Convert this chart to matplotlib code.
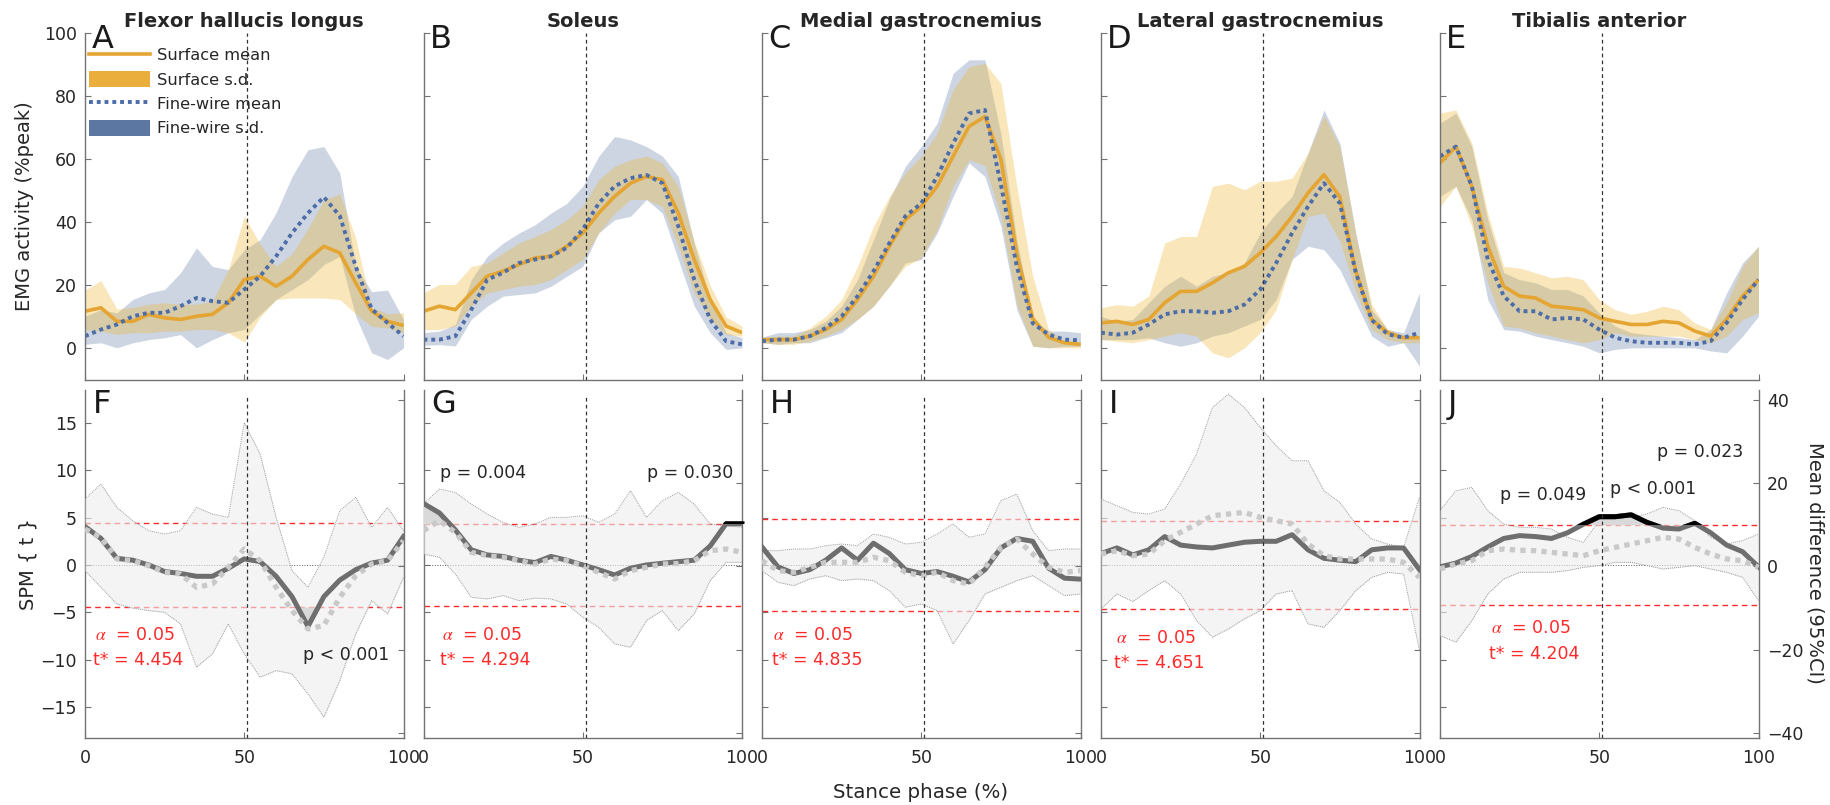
import numpy as np
import matplotlib
matplotlib.use('Agg')
from matplotlib import pyplot as plt
from matplotlib.lines import Line2D
from matplotlib.patches import Patch, Rectangle

plt.rcParams['font.family'] = ['DejaVu Sans']
plt.rcParams['mathtext.fontset'] = 'stix'

stance = [0, 5, 10, 15, 20, 25, 30, 35, 40, 45, 50, 55, 60, 65, 70, 75, 80, 85, 90, 95, 100]

muscles = ['Flexor hallucis longus', 'Soleus', 'Medial gastrocnemius',
           'Lateral gastrocnemius', 'Tibialis anterior']
top_letters = ['A', 'B', 'C', 'D', 'E']
bottom_letters = ['F', 'G', 'H', 'I', 'J']
t_crit = [4.454, 4.294, 4.835, 4.651, 4.204]
alpha_level = 0.05

# --- EMG envelopes (%peak) ---
fhl_surf_mean = [11.8, 12.9, 8.6, 8.6, 10.8, 9.7, 9.2, 10.2, 10.8, 14.5, 21.8, 22.9, 19.7, 22.9, 28.2, 32.4, 30.3, 20.8, 11.8, 8.6, 7.3]
fhl_surf_hi = [18.5, 21.5, 12.5, 13, 14, 14.5, 14, 14, 15, 25, 42, 33, 26, 30, 38, 47, 49, 35, 13, 11, 11.3]
fhl_surf_lo = [6, 5.5, 4.5, 5, 5, 5.5, 5.5, 6, 6, 5, 2, 10, 15.5, 16, 16, 16, 15.5, 11, 7, 6.5, 5]
fhl_fw_mean = [3.9, 6, 7.6, 10.2, 11.3, 11.3, 13.4, 16, 15, 14.5, 18.7, 22.9, 29.2, 36.6, 42.9, 48, 42, 26, 12.5, 8.1, 3.9]
fhl_fw_hi = [10.2, 12.3, 11.3, 15.5, 17.6, 18.7, 24, 31.9, 26, 25, 31.3, 34.5, 43, 54.5, 63, 64, 55.6, 26, 18, 18.5, 9.2]
fhl_fw_lo = [1.3, 1.8, 0.2, 1.8, 2.8, 3.4, 4.4, 0.2, 2.8, 5, 6, 10.8, 15.5, 18.7, 21.8, 26.6, 29.2, 10.2, -1.4, -3.5, 0.2]

sol_surf_mean = [11.8, 13.4, 12.3, 17.6, 22.9, 24.5, 26.6, 28.7, 29.2, 32.4, 36.6, 42.9, 48.2, 52.4, 54.5, 53.5, 42.9, 28.2, 15.5, 7.1, 5]
sol_surf_hi = [17.6, 20.3, 20.3, 26, 27.1, 30.3, 33.4, 35.5, 37.7, 40.8, 45, 53.5, 57.7, 59.8, 61, 58.8, 51.4, 34, 20, 10, 7.1]
sol_surf_lo = [6, 6, 7.1, 13.4, 17.6, 18.7, 19.7, 20.3, 21.8, 25, 28.2, 36.6, 42.9, 47.2, 47.2, 45, 32.4, 17.6, 9.2, 4.4, 3.9]
sol_fw_mean = [2.8, 2.8, 3.9, 12.3, 21.8, 24, 27.1, 28.2, 29.2, 31.9, 37.7, 46, 51.4, 54, 55, 52.4, 38.7, 21.8, 9.2, 2.3, 1.3]
sol_fw_hi = [5, 5.5, 7.6, 21.8, 29.2, 33.4, 36.6, 39.2, 42.9, 46, 51.4, 60.9, 67.2, 66.1, 64, 61, 54.5, 33.4, 15.5, 5, 3.4]
sol_fw_lo = [1.0, 1.2, 0.8, 9.2, 13.4, 16.6, 17.1, 17.6, 19.7, 22.9, 26, 36.6, 40.8, 41.9, 47.2, 42.9, 28.2, 13.4, 5, -0.3, 0.2]

mg_surf_mean = [2.8, 2.8, 2.8, 3.9, 6, 9.2, 15.5, 22.9, 32.4, 40.8, 45, 51.4, 60.9, 70.4, 73.5, 60, 30, 9.5, 3.5, 1.8, 1.3]
mg_surf_hi = [3.4, 3.9, 3.9, 6.5, 10.2, 15.5, 26, 38.7, 48.2, 55.6, 60.9, 68.2, 82, 89.3, 90.4, 84, 51.4, 22.9, 6, 2.3, 1.8]
mg_surf_lo = [1.8, 1.3, 1.3, 2.3, 3.9, 6, 9.2, 13.4, 19.7, 26, 28.7, 37.7, 51.4, 59.8, 58, 42, 14, 0.7, 0.2, 0.2, 0.2]
mg_fw_mean = [2.3, 2.8, 2.8, 3.9, 6.5, 10.2, 16.6, 24.5, 33.4, 41.9, 46, 54.5, 65, 74.5, 75.6, 52, 26, 8, 4.4, 2.8, 2.6]
mg_fw_hi = [3.6, 5, 5, 6, 8.6, 13.4, 21.8, 34.5, 47.2, 57.7, 64, 71.4, 87.2, 91.5, 91.5, 68, 34.5, 9.2, 5.5, 5.5, 5]
mg_fw_lo = [1.8, 1.3, 1.8, 1.8, 3.4, 5, 9.2, 13.4, 19.7, 27.1, 28.2, 36.6, 48.2, 58.8, 54.5, 38.7, 12.3, 0.7, 0.2, 0.7, 0.7]

lg_surf_mean = [8.1, 8.6, 7.6, 9.2, 14.5, 18.1, 18.1, 20.8, 24, 26, 30.3, 35.5, 41.9, 49.3, 55.1, 48, 24.5, 9.2, 5, 3.4, 3.4]
lg_surf_hi = [12.9, 13.9, 13.4, 16.6, 33.4, 35.5, 35.5, 51.4, 52.4, 50.3, 53, 53, 54, 61.9, 73.8, 64, 36, 14, 6, 4, 3.9]
lg_surf_lo = [2.8, 2.3, 1.8, 2.8, 3.9, 5, 3.9, -1.4, -3, 0.2, 5, 12.3, 28.2, 41.9, 42.9, 34, 18, 6, 2.8, 1.8, 1.8]
lg_fw_mean = [5, 4.4, 5, 7.6, 10.8, 11.8, 11.8, 11.3, 11.8, 13.9, 18.7, 27.1, 36.6, 45, 52.4, 46, 24, 9, 4.5, 3.4, 5]
lg_fw_hi = [10.2, 8.6, 9.2, 14.5, 19.7, 22.9, 19.7, 22.9, 24, 27.1, 36.6, 42.9, 48.2, 61.9, 75.6, 65, 36.6, 12.3, 6, 5, 17.6]
lg_fw_lo = [2.8, 2.8, 2.8, 3.4, 1.8, 0.7, 1.8, 3.9, 5, 7.1, 9.2, 15.5, 28.2, 32.4, 31.3, 25, 14.5, 3.9, 0.7, 1.8, -5.6]

ta_surf_mean = [58.8, 64, 51.4, 32.4, 19.7, 16.6, 16, 13.4, 12.9, 12.3, 9.7, 8.6, 7.6, 7.6, 8.6, 8.1, 5.5, 3.9, 9.2, 16.6, 21.8]
ta_surf_hi = [74.6, 75.6, 65.1, 42.9, 26, 25.5, 24, 22.4, 22.9, 21.8, 15.5, 12.3, 10.8, 11.8, 13.4, 12.3, 8.1, 6, 14.5, 26, 32.4]
ta_surf_lo = [45, 51.4, 38.7, 20.8, 7.1, 6.5, 5, 3.9, 2.8, 1.8, 2.8, 5, 3.9, 3.9, 3.9, 3.9, 2.8, 1.8, 3.9, 9.2, 11.3]
ta_fw_mean = [60.9, 64, 51.4, 28.2, 16.6, 11.8, 11.8, 9.2, 9.7, 9.2, 6, 3.4, 2.3, 1.8, 1.8, 1.8, 1.3, 2.3, 8.1, 15.5, 21.8]
ta_fw_hi = [71.4, 74.6, 64, 40.8, 24, 21.8, 20.8, 18.7, 18.7, 16.6, 11.3, 7.1, 5, 4.4, 3.9, 3.4, 2.8, 6, 17.6, 27.1, 32.4]
ta_fw_lo = [48.2, 51.4, 40.8, 15.5, 6, 5.5, 3.9, 2.8, 1.8, 0.7, -1.4, -0.3, 0.2, 0.2, 0.2, 0.2, 0.2, -0.8, -1.4, 3.9, 10.2]

# --- SPM{t} and mean difference (95% CI) ---
fhl_spm_t = [4.06, 2.8, 0.7, 0.5, 0, -0.7, -0.9, -1.2, -1.2, -0.35, 0.64, 0.35, -1.2, -3.35, -6.5, -3.35, -1.6, -0.5, 0.2, 0.5, 3.0]
fhl_mdiff = [9, 7, 1.8, 1.4, 0.2, -1.4, -1.8, -5, -4.2, -0.2, 4.2, 1.4, -5, -10.6, -15, -14.2, -7.4, -2.2, 0.6, 1.4, 6.2]
fhl_ci_hi = [16.2, 19.8, 14.2, 11, 8.6, 7.8, 8.6, 14.2, 12.6, 11.8, 34.5, 27, 11.8, -1, -5, 2.2, 13.4, 16.6, 9.4, 14.2, 8.6]
fhl_ci_lo = [-1, -5, -9, -10, -10.6, -11, -13.8, -24.2, -21, -13.8, -21, -26.6, -25, -25.8, -30.6, -36.2, -27.4, -16.2, -8.2, -11.4, -2.6]

sol_spm_t = [6.5, 5.5, 3.7, 1.6, 1.06, 0.9, 0.5, 0.25, 0.9, 0.5, 0, -0.5, -1.06, -0.35, 0, 0.18, 0.35, 0.5, 2.0, 4.35, 4.35]
sol_mdiff = [8.6, 11, 8.2, 3.4, 2.6, 2.2, 1.4, 0.6, 1.8, 1.4, 0.2, -1.4, -3, -1, -0.2, 0.6, 0.7, 1.4, 3.8, 4.2, 3.4]
sol_ci_hi = [15, 18.6, 17.8, 15, 12.6, 10.6, 9.4, 10.2, 11.8, 11.8, 12.2, 10.6, 12.6, 18.2, 11.8, 15.8, 17.8, 15, 10.2, 9.8, 9.4]
sol_ci_lo = [3, 2.2, -1.8, -7.4, -7.8, -7, -8.2, -7.6, -7.8, -9, -12.2, -14.6, -18.6, -19.4, -13, -10.6, -15.4, -11.4, -3.4, 1, 1]

mg_spm_t = [1.9, -0.2, -0.9, -0.5, 0.5, 1.8, 0.5, 2.3, 1.2, -0.5, -0.9, -0.7, -1.2, -1.8, -0.5, 1.8, 2.8, 2.5, -0.35, -1.4, -1.5]
mg_mdiff = [1.4, -1, -1.4, -0.2, 1, 1, 1, 2.2, 1.4, -1.4, -2.2, -1.4, -3.4, -4.2, -0.2, 4.6, 6.6, 3, -0.2, -1.4, -1]
mg_ci_hi = [3.8, 3.8, 4.2, 4.2, 5, 5.4, 5, 7.8, 7, 5.4, 5.8, 7.8, 10.2, 7, 7.8, 15.8, 17.4, 8.6, 3.8, 4.2, 4.2]
mg_ci_lo = [-1, -3.8, -4.6, -3, -2.2, -3.4, -3, -3.4, -5.8, -9.8, -9, -10.6, -18.6, -13, -6.6, -5, -3.4, -2.2, -4.6, -7, -6.6]

lg_spm_t = [1.2, 1.8, 1.06, 1.6, 3.0, 2.1, 1.9, 1.8, 2.1, 2.4, 2.5, 2.5, 3.2, 1.6, 0.7, 0.5, 0.35, 1.6, 1.8, 1.8, -0.5]
lg_mdiff = [3, 3.8, 2.6, 3, 6.2, 8.2, 10.2, 12.2, 12.6, 13, 11.8, 11, 10.2, 5.4, 2.6, 1.8, 1.8, 1.8, 1.8, 1, -2.6]
lg_ci_hi = [16.2, 14.6, 13, 12.6, 13.8, 19.8, 27, 38.2, 41.4, 38.2, 33.4, 29, 25.4, 25.4, 18.2, 15.4, 10.2, 6.6, 5.4, 4.6, 16.6]
lg_ci_lo = [-10.2, -6.6, -8.4, -5.8, -3.4, -6.6, -13, -17, -15, -12.6, -10.6, -6.6, -5.8, -13.8, -14.6, -10.6, -5.8, -2.6, -1.4, -1.8, -20.2]

ta_spm_t = [-0.2, 0.2, 0.9, 1.9, 2.8, 3.1, 3.0, 2.8, 3.4, 4.3, 5.1, 5.1, 5.3, 4.5, 3.9, 3.8, 4.4, 3.4, 2.1, 1.4, -0.2]
ta_mdiff = [-0.6, 0.6, 1.4, 3.8, 4.2, 3.9, 3.8, 3.4, 3, 2.6, 3.8, 4.6, 5.4, 6.2, 7, 6.6, 4.6, 3, 1.8, 1.4, -0.2]
ta_ci_hi = [13.4, 18.2, 19, 13.4, 10.2, 9.4, 9.4, 9, 7, 5.8, 11, 11.4, 11.8, 12.6, 14.2, 13.4, 11, 7, 5.4, 6.2, 7.8]
ta_ci_lo = [-16.6, -18.2, -13, -6.6, -3, -1.4, -1.4, -1.4, -1, -0.2, 0.2, 1, 1, 0.2, -0.6, -0.2, 0.2, -0.6, -1.4, -2.6, -8.2]

surf_mean = [fhl_surf_mean, sol_surf_mean, mg_surf_mean, lg_surf_mean, ta_surf_mean]
surf_hi = [fhl_surf_hi, sol_surf_hi, mg_surf_hi, lg_surf_hi, ta_surf_hi]
surf_lo = [fhl_surf_lo, sol_surf_lo, mg_surf_lo, lg_surf_lo, ta_surf_lo]
fw_mean = [fhl_fw_mean, sol_fw_mean, mg_fw_mean, lg_fw_mean, ta_fw_mean]
fw_hi = [fhl_fw_hi, sol_fw_hi, mg_fw_hi, lg_fw_hi, ta_fw_hi]
fw_lo = [fhl_fw_lo, sol_fw_lo, mg_fw_lo, lg_fw_lo, ta_fw_lo]
spm_t = [fhl_spm_t, sol_spm_t, mg_spm_t, lg_spm_t, ta_spm_t]
mdiff = [fhl_mdiff, sol_mdiff, mg_mdiff, lg_mdiff, ta_mdiff]
ci_hi = [fhl_ci_hi, sol_ci_hi, mg_ci_hi, lg_ci_hi, ta_ci_hi]
ci_lo = [fhl_ci_lo, sol_ci_lo, mg_ci_lo, lg_ci_lo, ta_ci_lo]

# p-value labels: (panel, x, y in SPM units, text)
p_labels = [(0, 68.5, -9.5, 'p < 0.001'),
            (1, 5.2, 9.7, 'p = 0.004'), (1, 70.2, 9.7, 'p = 0.030'),
            (4, 18.8, 7.4, 'p = 0.049'), (4, 53.4, 8.0, 'p < 0.001'),
            (4, 68.1, 11.9, 'p = 0.023')]
# where the alpha / t* labels sit in each SPM panel
stat_text_pos = [(3.1, -7.4), (5.8, -7.4), (3.6, -7.4), (4.8, -7.7), (15.9, -6.7)]
# stance ranges where the supra-threshold cluster is drawn in black
black_ranges = [[], [(85, 100)], [], [], [(38, 92)]]

SURF = '#E5A532'
SURF_FILL = '#EDB120'
FW = '#4D6DA8'
FW_FILL = '#5B76A0'
RED = '#FF2A2A'
SPINE = '0.45'
TEXT = '0.15'
heel_off = 51

W, H = 1830, 805
fig = plt.figure(figsize=(W / 100, H / 100), dpi=100)
lefts = [85, 423.5, 762, 1101, 1440]
pw = 318.5


def style_axis(ax, sides):
    for s in ['top', 'right', 'left', 'bottom']:
        ax.spines[s].set_visible(s in sides)
        ax.spines[s].set_color(SPINE)
        ax.spines[s].set_linewidth(1.0)
    ax.tick_params(direction='in', length=4, width=0.8, color=SPINE,
                   labelsize=12.5, labelcolor=TEXT, pad=6)


for i in range(5):
    # ---------- top row: EMG envelopes ----------
    ax = fig.add_axes([lefts[i] / W, 1 - 380 / H, pw / W, 347 / H])
    ax.set_facecolor('none')
    ax.fill_between(stance, fw_lo[i], fw_hi[i], color=FW_FILL, alpha=0.3, lw=0)
    ax.fill_between(stance, surf_lo[i], surf_hi[i], color=SURF_FILL, alpha=0.3, lw=0)
    ax.plot(stance, surf_mean[i], color=SURF, lw=2.6, solid_capstyle='butt')
    ax.plot(stance, fw_mean[i], color=FW, lw=2.8, ls=(0, (1, 1)))
    ax.axvline(heel_off, color='0.2', lw=0.9, ls=(0, (3, 2.5)))
    ax.set_xlim(0, 100)
    ax.set_ylim(-10, 100)
    ax.set_xticks([0, 50, 100])
    ax.set_xticklabels([])
    ax.set_yticks([0, 20, 40, 60, 80, 100])
    style_axis(ax, ['left', 'bottom'])
    if i != 0:
        ax.set_yticklabels([])
    ax.set_title(muscles[i], fontsize=14, fontweight='bold', color=TEXT, pad=4)
    ax.text(0.02, 0.957, top_letters[i], transform=ax.transAxes, fontsize=23,
            va='baseline', ha='left', color='0.1')
    if i == 0:
        handles = [Line2D([], [], color=SURF, lw=2.6),
                   Patch(facecolor='#E9AE3C', edgecolor='none'),
                   Line2D([], [], color=FW, lw=2.8, ls=(0, (1, 1))),
                   Patch(facecolor='#5C77A1', edgecolor='none')]
        ax.legend(handles, ['Surface mean', 'Surface s.d.', 'Fine-wire mean', 'Fine-wire s.d.'],
                  loc='upper left', bbox_to_anchor=(0.014, 0.96), frameon=False,
                  fontsize=11.7, handlelength=3.7, handleheight=1.09, handletextpad=0.43,
                  labelspacing=0.5, borderpad=0, borderaxespad=0, labelcolor=TEXT)

    # ---------- bottom row: SPM ----------
    tc = t_crit[i]
    bx = fig.add_axes([lefts[i] / W, 1 - 738 / H, pw / W, 348 / H])
    bx2 = bx.twinx()
    bx.set_xlim(0, 100)
    bx.set_ylim(-18.3, 18.5)
    bx2.set_ylim(-41.2, 42.4)
    bx.axhline(tc, color=RED, lw=1.0, ls=(0, (4, 3)))
    bx.axhline(-tc, color=RED, lw=1.0, ls=(0, (4, 3)))
    bx.axhline(0, color='0.35', lw=0.7, ls=':')

    bx2.fill_between(stance, ci_lo[i], ci_hi[i], color='#EDEDED', alpha=0.6, lw=0, zorder=1)
    bx2.plot(stance, ci_hi[i], color='0.6', lw=0.7, ls=(0, (1, 1)), zorder=2)
    bx2.plot(stance, ci_lo[i], color='0.6', lw=0.7, ls=(0, (1, 1)), zorder=2)
    t = np.array(spm_t[i])
    bx2.fill_between(stance, tc, t, where=t > tc, interpolate=True, color='0.85',
                     lw=0, transform=bx.transData, zorder=2.5)
    bx2.fill_between(stance, -tc, t, where=t < -tc, interpolate=True, color='0.85',
                     lw=0, transform=bx.transData, zorder=2.5)
    bx2.plot(stance, t, color='#6E6E6E', lw=3.6, transform=bx.transData, zorder=3)
    for x0, x1 in black_ranges[i]:
        seg = bx2.plot(stance, t, color='k', lw=3.6, transform=bx.transData, zorder=3.5)[0]
        seg.set_clip_path(Rectangle((x0, tc), x1 - x0 + 2, 30, transform=bx.transData))
    bx2.plot(stance, mdiff[i], color='#C9C9C9', lw=3.8, ls=(0, (1, 1)), zorder=4)
    bx2.axvline(heel_off, ymax=0.985, color='0.2', lw=0.9, ls=(0, (3, 2.5)), zorder=5)

    bx.set_xticks([0, 50, 100])
    bx.set_xticklabels(['0', '50', '100'])
    bx.set_yticks([-15, -10, -5, 0, 5, 10, 15])
    bx2.set_yticks([-40, -20, 0, 20, 40])
    style_axis(bx, ['left', 'bottom'])
    style_axis(bx2, ['right'])
    bx.tick_params(axis='x', pad=8)
    if i != 0:
        bx.set_yticklabels([])
    if i != 4:
        bx2.set_yticklabels([])

    bx.text(0.025, 0.934, bottom_letters[i], transform=bx.transAxes, fontsize=23,
            va='baseline', ha='left', color='0.1')
    sx, sy = stat_text_pos[i]
    bx.text(sx, sy, r'$\alpha$  = %.2f' % alpha_level, color=RED, fontsize=12.5,
            va='center', ha='left')
    bx.text(sx - 0.6, sy - 2.7, 't* = %.3f' % tc, color=RED, fontsize=12.5,
            va='center', ha='left')
    for p_i, px, py, label in p_labels:
        if p_i == i:
            bx2.text(px, py, label, transform=bx.transData, fontsize=12.5,
                     color=TEXT, va='center', ha='left', zorder=6)

fig.text(25 / W, 1 - 206 / H, 'EMG activity (%peak)', rotation=90,
         ha='center', va='center', fontsize=14, color=TEXT)
fig.text(28 / W, 1 - 564 / H, 'SPM { t }', rotation=90,
         ha='center', va='center', fontsize=14, color=TEXT)
fig.text(1815 / W, 1 - 563 / H, 'Mean difference (95%CI)', rotation=270,
         ha='center', va='center', fontsize=14, color=TEXT)
fig.text(921 / W, 1 - 792 / H, 'Stance phase (%)', ha='center', va='center',
         fontsize=14.3, color=TEXT)

fig.savefig('out.png', dpi=100)
